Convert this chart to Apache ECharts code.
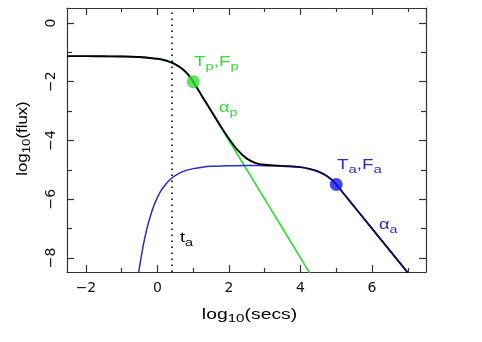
<!DOCTYPE html>
<html><head><meta charset="utf-8">
<script src="https://cdn.jsdelivr.net/npm/echarts@6/dist/echarts.min.js"></script>
<style>html,body{margin:0;padding:0;background:#fff}#c{width:482px;height:342px}</style>
</head><body><div id="c"></div>
<script>
// tick values
const xMajor = [-2, 0, 2, 4, 6];
const xMinor = [-1, 1, 3, 5, 7];
const yMajor = [0, -2, -4, -6, -8];
const yMinor = [-1, -3, -5, -7];

// prompt component (green)
const greenX = [-2.53, -2, -1.5, -1, -0.5, 0, 0.1, 0.2, 0.3, 0.4, 0.5, 0.6, 0.7, 0.8, 0.9, 1, 1.5, 2, 3, 4, 4.4];
const greenY = [-1.13, -1.13, -1.135, -1.14, -1.16, -1.22, -1.24, -1.27, -1.305, -1.35, -1.41, -1.48, -1.57, -1.68, -1.82, -2.0, -3.0, -4.0, -6.0, -8.0, -8.8];

// afterglow component (blue)
const blueX = [-0.6, -0.55, -0.5, -0.4, -0.3, -0.2, -0.1, 0, 0.1, 0.2, 0.3, 0.4, 0.6, 0.8, 1, 1.25, 1.5, 2, 2.5, 3, 3.5, 4, 4.25, 4.5, 4.75, 4.9, 5, 5.5, 6, 6.5, 7, 7.2];
const blueY = [-9.19, -8.72, -8.30, -7.59, -7.03, -6.58, -6.22, -5.94, -5.71, -5.54, -5.40, -5.28, -5.12, -5.02, -4.96, -4.91, -4.88, -4.86, -4.85, -4.86, -4.87, -4.91, -4.97, -5.06, -5.22, -5.37, -5.50, -6.25, -7.0, -7.75, -8.5, -8.8];

// total (black)
const totalX = [-2.53, -2, -1.5, -1, -0.5, 0, 0.1, 0.2, 0.3, 0.4, 0.5, 0.6, 0.7, 0.8, 0.9, 1, 1.25, 1.5, 1.75, 2, 2.25, 2.5, 2.75, 3, 3.25, 3.5, 4, 4.25, 4.5, 4.75, 4.9, 5, 5.5, 6, 6.5, 7, 7.2];
const totalY = [-1.13, -1.13, -1.135, -1.14, -1.16, -1.22, -1.24, -1.27, -1.305, -1.35, -1.41, -1.48, -1.57, -1.68, -1.82, -2.0, -2.5, -2.99, -3.48, -3.94, -4.34, -4.62, -4.77, -4.83, -4.85, -4.87, -4.91, -4.97, -5.06, -5.22, -5.37, -5.50, -6.25, -7.0, -7.75, -8.5, -8.8];

// break points and t_a
const breakP = [1, -2];
const breakA = [5, -5.5];
const tA = 0.4;
const overlapStart = 3.4; // where total merges onto the blue curve

const GREEN = '#33dd33', BLUE = '#2b2bd0', NAVY = '#0e0e48', AX = '#333';
const zip = (a, b) => a.map((v, i) => [v, b[i]]);
const fmt = v => String(v).replace('-', '\u2212');
const FONT = 'Liberation Sans';
const TICKFONT = 'DejaVu Sans';

function xAx(pos, ticks, len, line, labels) {
  return {
    type: 'value', position: pos, min: -2.53, max: 7.51,
    axisLine: {show: line, onZero: false, lineStyle: {color: AX, width: 1.2}},
    axisTick: {show: true, inside: true, length: len, customValues: ticks, lineStyle: {color: AX, width: 1.2}},
    axisLabel: {show: labels, customValues: ticks, formatter: fmt, color: '#111', fontSize: 14, fontFamily: TICKFONT, margin: 9},
    splitLine: {show: false}
  };
}
function yAx(pos, ticks, len, line, labels) {
  return {
    type: 'value', position: pos, min: -8.48, max: 0.51,
    axisLine: {show: line, onZero: false, lineStyle: {color: AX, width: 1.2}},
    axisTick: {show: true, inside: true, length: len, customValues: ticks, lineStyle: {color: AX, width: 1.2}},
    axisLabel: {show: labels, customValues: ticks, formatter: fmt, color: '#111', fontSize: 14, fontFamily: TICKFONT, rotate: 90, margin: 9},
    splitLine: {show: false}
  };
}

// text with subscripts, built from pieces
const ctx = document.createElement('canvas').getContext('2d');
function tw(t, size) { ctx.font = size + 'px ' + FONT; return ctx.measureText(t).width; }
function subText(parts, color, o) {
  const main = o.main || 14, sub = o.sub || 11, drop = o.drop || 5, sx = o.scaleX || 1;
  let off = 0; const kids = [];
  parts.forEach(([t, s]) => {
    const size = s ? sub : main;
    kids.push({type: 'text', x: off, y: s ? drop : 0, silent: true,
      style: {text: t, font: size + 'px ' + FONT, fill: color, verticalAlign: 'middle', align: 'left'}});
    off += tw(t, size);
  });
  const total = off * sx;
  const g = {type: 'group', scaleX: sx, rotation: o.rotation || 0, children: kids, silent: true};
  if (o.rotation) { g.x = o.cx; g.y = o.cy + total / 2; }
  else if (o.cx !== undefined) { g.x = o.cx - total / 2; g.y = o.cy; }
  else { g.x = o.left; g.y = o.cy; }
  return g;
}

const chart = echarts.init(document.getElementById('c'), null, {renderer: 'canvas'});
chart.setOption({
  animation: false,
  grid: {left: 67, top: 8, right: 56, bottom: 70, containLabel: false},
  xAxis: [xAx('bottom', xMajor, 7, true, true), xAx('bottom', xMinor, 4, false, false),
          xAx('top', xMajor, 7, true, false), xAx('top', xMinor, 4, false, false)],
  yAxis: [yAx('left', yMajor, 7, true, true), yAx('left', yMinor, 5, false, false),
          yAx('right', yMajor, 7, true, false), yAx('right', yMinor, 5, false, false)],
  series: [
    {type: 'line', data: zip(greenX, greenY), smooth: 0.3, showSymbol: false, lineStyle: {color: GREEN, width: 1.7}, z: 2,
     markLine: {silent: true, symbol: 'none', label: {show: false},
       lineStyle: {color: '#000', type: [1.5, 4.5], width: 1.6}, data: [{xAxis: tA}]}},
    {type: 'line', data: zip(blueX, blueY), smooth: 0.3, showSymbol: false, lineStyle: {color: BLUE, width: 1.5}, z: 3},
    {type: 'line', id: 'total', data: zip(totalX, totalY), smooth: 0.3, showSymbol: false, lineStyle: {color: '#000', width: 1.9}, z: 4},
    {type: 'scatter', data: [breakP], symbolSize: 13, itemStyle: {color: GREEN}, z: 5},
    {type: 'scatter', data: [breakA], symbolSize: 13, itemStyle: {color: '#1414ee'}, z: 5}
  ],
  graphic: [
    subText([['T', 0], ['p', 1], [',F', 0], ['p', 1]], GREEN, {left: 194, cy: 62, scaleX: 1.35}),
    subText([['\u03b1', 0], ['p', 1]], GREEN, {left: 219, cy: 108, scaleX: 1.3}),
    subText([['T', 0], ['a', 1], [',F', 0], ['a', 1]], BLUE, {left: 337, cy: 165, scaleX: 1.35}),
    subText([['\u03b1', 0], ['a', 1]], BLUE, {left: 379, cy: 225, scaleX: 1.3}),
    subText([['t', 0], ['a', 1]], '#000', {left: 180, cy: 238, scaleX: 1.3}),
    subText([['log', 0], ['10', 1], ['(secs)', 0]], '#000', {cx: 249.5, cy: 315, scaleX: 1.38, drop: 4}),
    subText([['log', 0], ['10', 1], ['(flux)', 0]], '#000', {cx: 23, cy: 138.5, scaleX: 1.2, rotation: Math.PI / 2, drop: 4})
  ]
});
// the total curve turns navy where it lies on top of the blue curve
const px = chart.convertToPixel({xAxisIndex: 0}, overlapStart);
chart.setOption({series: [{id: 'total', lineStyle: {color: {type: 'linear', x: px - 1, y: 0, x2: px + 1, y2: 0, global: true,
  colorStops: [{offset: 0, color: '#000'}, {offset: 1, color: NAVY}]}}}]});
</script></body></html>
